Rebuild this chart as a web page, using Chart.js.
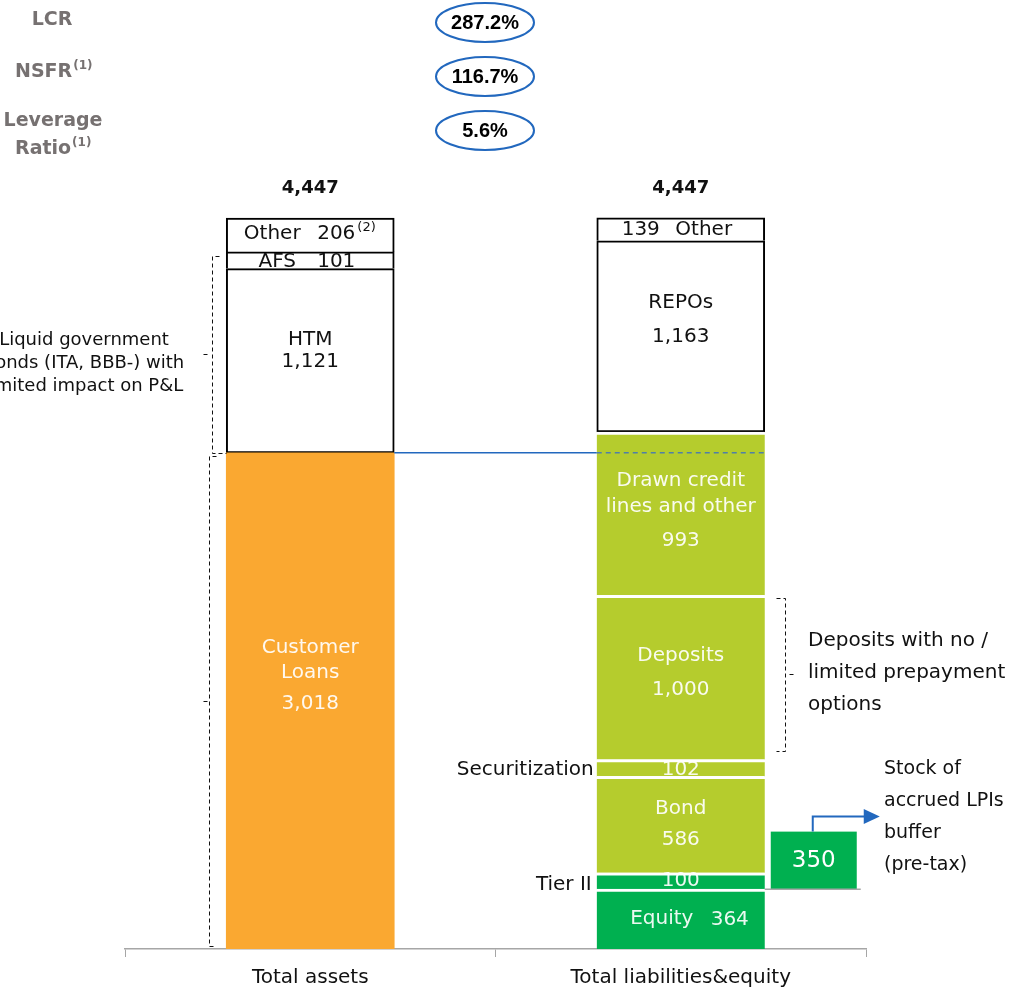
<!DOCTYPE html>
<html>
<head>
<meta charset="utf-8">
<script src="https://cdn.jsdelivr.net/npm/chart.js@4.4.1/dist/chart.umd.min.js"></script>
<style>
  html, body { margin: 0; padding: 0; background: #fff; }
  canvas { display: block; }
</style>
</head>
<body>
<canvas id="grafico" width="1019" height="989"></canvas>
<script>
// datos
const categories = ['Total assets', 'Total liabilities&equity'];
const assetNames = ['Customer Loans', 'HTM', 'AFS', 'Other'];
const assetValues = [3018, 1121, 101, 206];
const liabNames = ['Equity', 'Tier II', 'Bond', 'Securitization', 'Deposits', 'Drawn credit lines and other', 'REPOs', 'Other'];
const liabValues = [364, 100, 586, 102, 1000, 993, 1163, 139];
const totals = [4447, 4447];
const ratioNames = ['LCR', 'NSFR', 'Leverage Ratio'];
const ratioValues = ['287.2%', '116.7%', '5.6%'];
const bufferValue = 350;

const FONT = '"DejaVu Sans", "Open Sans", sans-serif';
const FS = 20;
const ORANGE = '#FAA831', LIME = '#B5CC2D', GREEN = '#00B050', BLUE = '#2268BE';
const fmt = v => v.toLocaleString('en-US');

const boxFull = { bg: '#fff', bc: '#000', bw: 2 };
const boxTop = { bg: '#fff', bc: '#000', bw: { top: 2, left: 2, right: 2, bottom: 0 } };
const gap = { top: 3, left: 0, right: 0, bottom: 0 };

const assetStyle = [
    { bg: ORANGE, bc: ORANGE, bw: 0 },
    boxFull, boxTop, boxTop
];
const liabStyle = [
    { bg: GREEN, bc: '#fff', bw: gap },
    { bg: GREEN, bc: '#fff', bw: gap },
    { bg: LIME, bc: '#fff', bw: gap },
    { bg: LIME, bc: '#fff', bw: gap },
    { bg: LIME, bc: '#fff', bw: gap },
    { bg: LIME, bc: '#fff', bw: gap },
    boxFull, boxTop
];

// label layout (text lines relative to each segment centre)
const W = 'rgba(255,255,255,0.92)';
const assetLabels = [
    v => [{ t: 'Customer', dy: -53, c: W }, { t: 'Loans', dy: -28, c: W }, { t: fmt(v), dy: 3, c: W }],
    v => [{ t: 'HTM', dy: -21 }, { t: fmt(v), dy: 1 }],
    v => [{ t: 'AFS', dx: -33, dy: 2 }, { t: fmt(v), dx: 26, dy: 2 }],
    v => [{ t: 'Other', dx: -38, dy: -1 }, { t: fmt(v), dx: 26, dy: -1, sup: '(2)' }]
];
const liabLabels = [
    v => [{ t: 'Equity', dx: -19, dy: 0, c: W }, { t: fmt(v), dx: 49, dy: 1, c: W }],
    v => [{ t: fmt(v), dy: 0, c: W }, { t: 'Tier II', out: -5, dy: 4 }],
    v => [{ t: 'Bond', dy: -16, c: W }, { t: fmt(v), dy: 15, c: W }],
    v => [{ t: fmt(v), dy: 2, c: W }, { t: 'Securitization', out: -3, dy: 2 }],
    v => [{ t: 'Deposits', dy: -22, c: W }, { t: fmt(v), dy: 12, c: W }],
    v => [{ t: 'Drawn credit', dy: -33, c: W }, { t: 'lines and other', dy: -7, c: W }, { t: fmt(v), dy: 27, c: W }],
    v => [{ t: 'REPOs', dy: -34 }, { t: fmt(v), dy: 0 }],
    v => [{ t: fmt(v), dx: -40, dy: 0 }, { t: 'Other', dx: 23, dy: 0 }]
];

let datasets = [];
assetValues.forEach((v, i) => {
    datasets.push({
        label: assetNames[i], data: [v, null],
        backgroundColor: assetStyle[i].bg, borderColor: assetStyle[i].bc,
        borderWidth: assetStyle[i].bw, borderSkipped: false,
        lbl: assetLabels[i](v), cat: 0
    });
});
liabValues.forEach((v, i) => {
    datasets.push({
        label: liabNames[i], data: [null, v],
        backgroundColor: liabStyle[i].bg, borderColor: liabStyle[i].bc,
        borderWidth: liabStyle[i].bw, borderSkipped: false,
        lbl: liabLabels[i](v), cat: 1
    });
});

function dashed(c, pts) {
    c.save();
    c.strokeStyle = '#111';
    c.lineWidth = 1;
    c.setLineDash([4, 3]);
    c.beginPath();
    c.moveTo(pts[0][0] + 0.5, Math.round(pts[0][1]) + 0.5);
    for (let k = 1; k < pts.length; k++) c.lineTo(pts[k][0] + 0.5, Math.round(pts[k][1]) + 0.5);
    c.stroke();
    c.restore();
}

const extras = {
    id: 'extras',
    afterDatasetsDraw(chart) {
        const c = chart.ctx, ys = chart.scales.y, xs = chart.scales.x;
        c.save();
        c.textAlign = 'center';
        c.textBaseline = 'middle';

        // etiquetas de los segmentos
        chart.data.datasets.forEach((ds, i) => {
            const el = chart.getDatasetMeta(i).data[ds.cat];
            const cy = (el.y + el.base) / 2;
            const left = el.x - el.width / 2;
            ds.lbl.forEach(l => {
                c.font = FS + 'px ' + FONT;
                c.fillStyle = l.c || '#111';
                if (l.out !== undefined) {
                    c.textAlign = 'right';
                    c.fillText(l.t, left + l.out, cy + (l.dy || 0));
                    c.textAlign = 'center';
                } else {
                    const tx = el.x + (l.dx || 0), ty = cy + (l.dy || 0);
                    c.fillText(l.t, tx, ty);
                    if (l.sup) {
                        const w = c.measureText(l.t).width;
                        c.font = '13px ' + FONT;
                        c.textAlign = 'left';
                        c.fillText(l.sup, tx + w / 2 + 2, ty - 6);
                        c.textAlign = 'center';
                    }
                }
            });
        });

        // totales
        c.font = 'bold 18px ' + FONT;
        c.fillStyle = '#111';
        totals.forEach((t, i) => {
            c.fillText(fmt(t), xs.getPixelForValue(i), ys.getPixelForValue(t) - 30);
        });

        // linea azul al nivel de Customer Loans
        const la = chart.getDatasetMeta(0).data[0];
        const lb = chart.getDatasetMeta(assetValues.length).data[1];
        const yl = ys.getPixelForValue(assetValues[0]);
        const bL = lb.x - lb.width / 2, bR = lb.x + lb.width / 2;
        c.strokeStyle = BLUE;
        c.lineWidth = 1.5;
        c.beginPath();
        c.moveTo(la.x + la.width / 2, yl);
        c.lineTo(bL, yl);
        c.stroke();
        c.strokeStyle = '#4F7FA8';
        c.setLineDash([5, 4]);
        c.beginPath();
        c.moveTo(bL, yl);
        c.lineTo(bR, yl);
        c.stroke();
        c.setLineDash([]);

        // buffer 350
        const bTop = ys.getPixelForValue(liabValues[0] + bufferValue);
        const bBot = ys.getPixelForValue(liabValues[0]);
        const bx = bR + 6, bw = 86;
        c.fillStyle = GREEN;
        c.fillRect(bx, bTop, bw, bBot - bTop);
        c.strokeStyle = '#A6A6A6';
        c.lineWidth = 1.5;
        c.beginPath();
        c.moveTo(bR, bBot);
        c.lineTo(bx + bw + 4, bBot);
        c.stroke();
        c.fillStyle = '#fff';
        c.font = '23px ' + FONT;
        c.fillText(fmt(bufferValue), bx + bw / 2, (bTop + bBot) / 2 + 1);

        // flecha
        const ax = bx + bw / 2 - 1, ay = bTop - 15;
        c.strokeStyle = BLUE;
        c.lineWidth = 2;
        c.beginPath();
        c.moveTo(ax, bTop);
        c.lineTo(ax, ay);
        c.lineTo(ax + 53, ay);
        c.stroke();
        c.fillStyle = BLUE;
        c.beginPath();
        c.moveTo(ax + 51, ay - 7.5);
        c.lineTo(ax + 67, ay);
        c.lineTo(ax + 51, ay + 7.5);
        c.closePath();
        c.fill();

        // textos laterales
        c.fillStyle = '#111';
        c.font = '19px ' + FONT;
        c.textAlign = 'left';
        ['Stock of', 'accrued LPIs', 'buffer', '(pre-tax)'].forEach((t, k) => {
            c.fillText(t, 884, 769 + k * 32);
        });
        c.font = FS + 'px ' + FONT;
        ['Deposits with no /', 'limited prepayment', 'options'].forEach((t, k) => {
            c.fillText(t, 808, 641 + k * 32);
        });
        c.textAlign = 'center';
        c.font = '18px ' + FONT;
        ['Liquid government', 'bonds (ITA, BBB-) with', 'limited impact on P&L'].forEach((t, k) => {
            c.fillText(t, 84, 340 + k * 23);
        });

        // corchetes
        const g1 = ys.getPixelForValue(assetValues[0] + assetValues[1] + assetValues[2]) + 4;
        const g2 = ys.getPixelForValue(assetValues[0]);
        dashed(c, [[219, g1], [212, g1], [212, g2], [226, g2]]);
        dashed(c, [[203, (g1 + g2) / 2], [209, (g1 + g2) / 2]]);
        const h1 = g2 + 3, h2 = ys.getPixelForValue(0) - 3;
        dashed(c, [[216, h1], [209, h1], [209, h2], [216, h2]]);
        dashed(c, [[203, (h1 + h2) / 2], [207, (h1 + h2) / 2]]);
        const d0 = liabValues.slice(0, 4).reduce((a, b) => a + b, 0);
        const r1 = ys.getPixelForValue(d0 + liabValues[4]) + 3;
        const r2 = ys.getPixelForValue(d0) - 9;
        dashed(c, [[776, r1], [785, r1], [785, r2], [776, r2]]);
        dashed(c, [[789, (r1 + r2) / 2], [795, (r1 + r2) / 2]]);

        // ratios
        const ry = [22.5, 76.5, 130.5];
        c.strokeStyle = BLUE;
        c.lineWidth = 2;
        ry.forEach((yy, k) => {
            c.beginPath();
            c.ellipse(485, yy, 49, 19.5, 0, 0, Math.PI * 2);
            c.stroke();
            c.fillStyle = '#000';
            c.font = 'bold 20px "Liberation Sans", Arial, sans-serif';
            c.fillText(ratioValues[k], 485, yy + 1);
        });
        c.fillStyle = '#767171';
        c.font = 'bold 19px ' + FONT;
        c.fillText(ratioNames[0], 52, 20);
        c.fillText('Leverage', 53, 121);
        c.textAlign = 'left';
        const sup = (t, x0, y0) => {
            c.font = 'bold 19px ' + FONT;
            c.fillText(t, x0, y0);
            const w = c.measureText(t).width;
            c.font = 'bold 12px ' + FONT;
            c.fillText('(1)', x0 + w + 1, y0 - 6);
        };
        sup(ratioNames[1], 15, 72);
        sup('Ratio', 15, 149);

        c.restore();
    }
};

const ctx = document.getElementById('grafico');
const myChart = new Chart(ctx, {
    type: 'bar',
    data: { labels: categories, datasets: datasets },
    options: {
        responsive: false,
        animation: false,
        layout: { padding: { left: 125, right: 153, top: 127, bottom: -10 } },
        plugins: { legend: { display: false }, tooltip: { enabled: false } },
        datasets: { bar: { barThickness: 168 } },
        scales: {
            x: {
                stacked: true,
                grid: { display: true, drawOnChartArea: false, drawTicks: true, tickLength: 8, color: '#A6A6A6', offset: true },
                border: { color: '#A6A6A6', width: 1.5 },
                ticks: { color: '#111', font: { size: FS, family: FONT }, padding: 9 }
            },
            y: { stacked: true, display: false, min: 0, max: 5000 }
        }
    },
    plugins: [extras]
});
</script>
</body>
</html>
